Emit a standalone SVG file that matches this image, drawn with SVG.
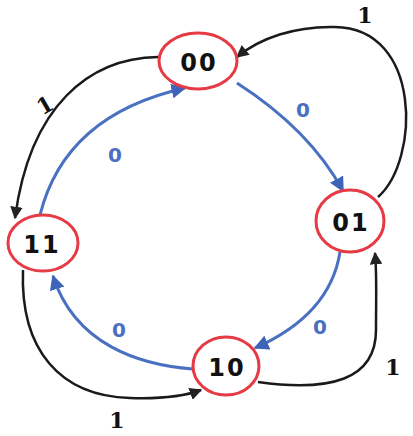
<svg xmlns="http://www.w3.org/2000/svg" width="413" height="436" viewBox="0 0 413 436">
<defs>
<marker id="ab" viewBox="0 0 10 10" refX="9" refY="5" markerWidth="5" markerHeight="5" orient="auto"><path d="M0,0 L10,5 L0,10 z" fill="#3f63b8"/></marker>
<marker id="ak" viewBox="0 0 10 10" refX="9" refY="5" markerWidth="5" markerHeight="5" orient="auto"><path d="M0,0 L10,5 L0,10 z" fill="#222"/></marker>
<style>
.n{fill:#fff;stroke:#e63a44;stroke-width:3}
.t{font-family:"DejaVu Sans",sans-serif;font-size:24px;font-weight:bold;fill:#111;text-anchor:middle;dominant-baseline:central;letter-spacing:2px}
.b{fill:none;stroke:#4a70c2;stroke-width:3;marker-end:url(#ab)}
.k{fill:none;stroke:#1a1a1a;stroke-width:2.5;marker-end:url(#ak)}
.lb{font-family:"DejaVu Sans",sans-serif;font-size:20px;font-weight:bold;fill:#4a70c2;text-anchor:middle;dominant-baseline:central}
.lk{font-family:"DejaVu Serif",serif;font-size:22px;font-weight:bold;fill:#111;text-anchor:middle;dominant-baseline:central}
</style>
</defs>
<g id="connectors">
<path class="b" d="M237,83 Q310,130 343,191"/>
<path class="b" d="M340,252 Q330,315 255,348"/>
<path class="b" d="M193,369 C140,365 75,345 53,276"/>
<path class="b" d="M40,215 Q65,115 185,88"/>
<path class="k" d="M158,57 C90,58 30,105 15,218"/>
<path class="k" d="M378,197 C420,160 422,28 335,27 C295,26 260,38 237,57"/>
<path class="k" d="M258,382 C330,392 376,380 376,330 C376,295 377,275 375,253"/>
<path class="k" d="M23,270 C20,350 60,396 130,398 C160,399 185,396 201,390"/>
<text class="lb" x="303" y="110">0</text>
<text class="lb" x="115" y="155">0</text>
<text class="lb" x="119" y="330">0</text>
<text class="lb" x="320" y="327">0</text>
<text class="lk" x="365" y="15">1</text>
<text class="lk" x="45" y="105" transform="rotate(-30 45 105)">1</text>
<text class="lk" x="393" y="367">1</text>
<text class="lk" x="117" y="420">1</text>
</g>
<g id="n00"><ellipse class="n" cx="198" cy="61" rx="39" ry="28"/><text class="t" x="199" y="63">00</text></g>
<g id="n01"><ellipse class="n" cx="350" cy="221" rx="34" ry="31"/><text class="t" x="351" y="223">01</text></g>
<g id="n11"><ellipse class="n" cx="43" cy="243" rx="35" ry="28"/><text class="t" x="42" y="245">11</text></g>
<g id="n10"><ellipse class="n" cx="226" cy="366" rx="33" ry="29"/><text class="t" x="227" y="368">10</text></g>
</svg>
